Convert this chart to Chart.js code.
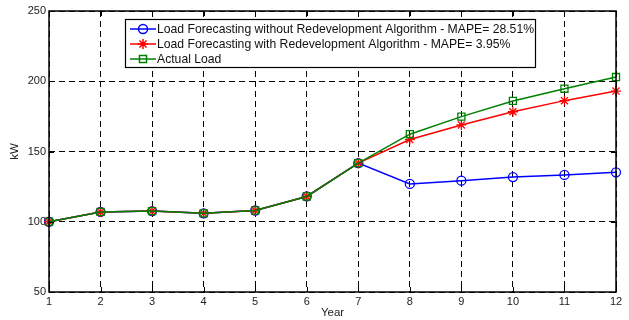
<!DOCTYPE html>
<html>
<head>
<meta charset="utf-8">
<script src="https://cdn.jsdelivr.net/npm/chart.js@4/dist/chart.umd.min.js"></script>
<style>
  html, body { margin: 0; padding: 0; background: #fff; }
  #wrap { width: 629px; height: 320px; }
</style>
</head>
<body>
<div id="wrap"><canvas id="loadChart"></canvas></div>
<script>
const years = ['1', '2', '3', '4', '5', '6', '7', '8', '9', '10', '11', '12'];
const withoutRedev = [100, 107, 107.6, 106, 108, 118, 141.7, 126.9, 129.2, 131.8, 133.3, 135.2];
const withRedev = [100, 107, 107.6, 106, 108, 118, 141.7, 158.5, 168.9, 178.3, 186.2, 193];
const actualLoad = [100, 107, 107.6, 106, 108, 118, 141.7, 162.3, 174.8, 186, 194.7, 203];
const yTicks = [50, 100, 150, 200, 250];

const FONT = 'Liberation Sans, Arial, Helvetica, sans-serif';

// legend box and inward tick marks, matlab style
const matlabFrame = {
    id: 'matlabFrame',
    afterDatasetsDraw(chart) {
        const ctx = chart.ctx;
        const a = chart.chartArea;
        const xs = chart.scales.x;
        const ys = chart.scales.y;
        ctx.save();
        ctx.strokeStyle = '#000';
        ctx.lineWidth = 1;
        ctx.setLineDash([]);
        ctx.beginPath();
        years.forEach((y, i) => {
            const px = Math.round(xs.getPixelForValue(i)) + 0.5;
            ctx.moveTo(px, a.bottom); ctx.lineTo(px, a.bottom - 5);
            ctx.moveTo(px, a.top); ctx.lineTo(px, a.top + 5);
        });
        yTicks.forEach(v => {
            const py = Math.round(ys.getPixelForValue(v)) + 0.5;
            ctx.moveTo(a.left, py); ctx.lineTo(a.left + 5, py);
            ctx.moveTo(a.right, py); ctx.lineTo(a.right - 5, py);
        });
        ctx.stroke();
        ctx.lineWidth = 1.5;
        ctx.strokeRect(a.left, a.top, a.right - a.left, a.bottom - a.top);

        // legend
        const lx = a.left + 76, ly = a.top + 8, lw = 410, lh = 48;
        ctx.fillStyle = '#fff';
        ctx.fillRect(lx, ly, lw, lh);
        ctx.lineWidth = 1.2;
        ctx.strokeRect(lx + 0.5, ly + 0.5, lw, lh);
        ctx.font = '12.2px ' + FONT;
        ctx.textBaseline = 'middle';
        chart.data.datasets.forEach((ds, i) => {
            const cy = ly + 10 + i * 15;
            ctx.strokeStyle = ds.borderColor;
            ctx.lineWidth = 1.5;
            ctx.beginPath();
            ctx.moveTo(lx + 5, cy); ctx.lineTo(lx + 31, cy);
            ctx.stroke();
            ctx.fillStyle = 'rgba(0,0,0,0)';
            Chart.helpers.drawPoint(ctx, {
                pointStyle: ds.pointStyle,
                radius: ds.pointRadius,
                rotation: 0,
                borderWidth: 1.3
            }, lx + 18, cy);
            ctx.fillStyle = '#111';
            ctx.fillText(ds.label, lx + 32, cy + 1);
        });
        ctx.restore();
    }
};

new Chart(document.getElementById('loadChart'), {
    type: 'line',
    data: {
        labels: years,
        datasets: [
            {
                label: 'Load Forecasting without Redevelopment Algorithm - MAPE= 28.51%',
                data: withoutRedev,
                borderColor: '#0000ff',
                backgroundColor: 'transparent',
                borderWidth: 1.5,
                pointStyle: 'circle',
                pointRadius: 4.5,
                pointBorderWidth: 1.3,
                pointBackgroundColor: 'transparent',
                tension: 0,
                order: 3
            },
            {
                label: 'Load Forecasting with Redevelopment Algorithm - MAPE= 3.95%',
                data: withRedev,
                borderColor: '#ff0000',
                backgroundColor: 'transparent',
                borderWidth: 1.5,
                pointStyle: 'star',
                pointRadius: 5,
                pointBorderWidth: 1.3,
                tension: 0,
                order: 2
            },
            {
                label: 'Actual Load',
                data: actualLoad,
                borderColor: '#008000',
                backgroundColor: 'transparent',
                borderWidth: 1.5,
                pointStyle: 'rect',
                pointRadius: 5,
                pointBorderWidth: 1.3,
                pointBackgroundColor: 'transparent',
                tension: 0,
                order: 1
            }
        ]
    },
    options: {
        responsive: true,
        maintainAspectRatio: false,
        animation: false,
        layout: { padding: { top: 11, right: 13, left: 0, bottom: 0 } },
        plugins: {
            legend: { display: false },
            tooltip: { enabled: false }
        },
        scales: {
            x: {
                offset: false,
                grid: { color: '#000', lineWidth: 1, drawTicks: false },
                border: { display: false, dash: [6, 4] },
                ticks: { color: '#222', font: { family: FONT, size: 11 }, padding: 3, maxRotation: 0, autoSkip: false },
                title: { display: true, text: 'Year', color: '#222', font: { family: FONT, size: 11.5 }, padding: { top: 0, bottom: 0 } },
                afterFit(scale) { scale.height = 28; }
            },
            y: {
                min: 50,
                max: 250,
                afterBuildTicks(scale) { scale.ticks = yTicks.map(v => ({ value: v })); },
                grid: { color: '#000', lineWidth: 1, drawTicks: false },
                border: { display: false, dash: [6, 4] },
                ticks: { color: '#222', font: { family: FONT, size: 11 }, padding: 3 },
                title: { display: true, text: 'kW', color: '#222', font: { family: FONT, size: 11.5 }, padding: { top: 8, bottom: 0 } },
                afterFit(scale) { scale.width = 49; }
            }
        }
    },
    plugins: [matlabFrame]
});
</script>
</body>
</html>
